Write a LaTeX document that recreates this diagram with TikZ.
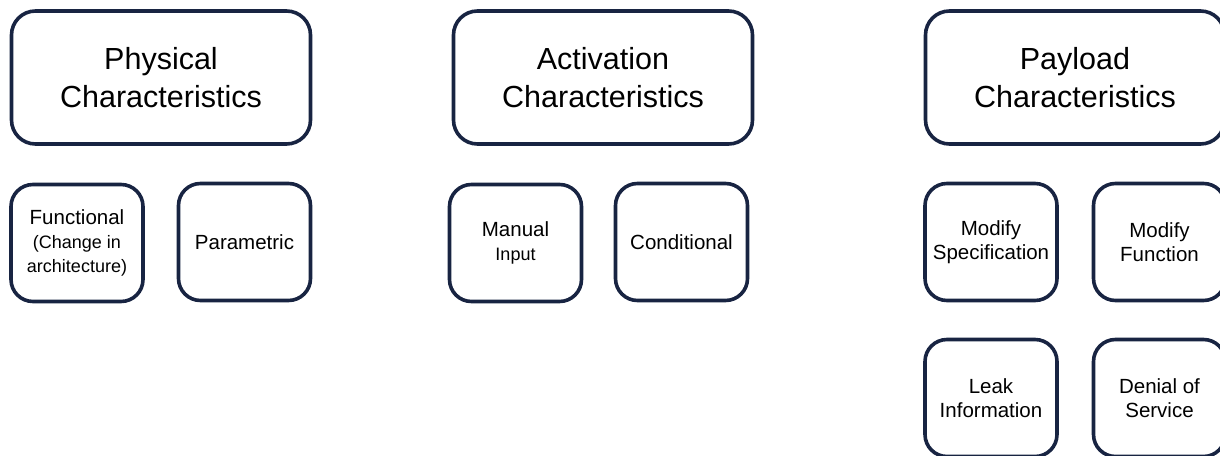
\documentclass[tikz,border=0pt]{standalone}
\usepackage{fontspec}
\setmainfont{Liberation Sans}
\usepackage{xcolor}
\usepackage{tikz}
\usetikzlibrary{positioning}
\definecolor{boxnavy}{RGB}{24,36,66}
\newcommand{\smallline}[1]{{\fontsize{18}{23}\selectfont #1}}

\begin{document}
\begin{tikzpicture}[x=1pt,y=-1pt,
      bigbox/.style={draw=boxnavy,line width=3.6pt,rounded corners=24pt,minimum width=299pt,minimum height=133pt,inner sep=0pt,align=center,font=\fontsize{30.5}{38}\selectfont},
      smallbox/.style={draw=boxnavy,line width=3.6pt,rounded corners=22pt,minimum width=132pt,minimum height=117pt,inner sep=0pt,align=center,font=\fontsize{20.5}{24}\selectfont}]
    \useasboundingbox (0,0) rectangle (1220,455);
    \clip (0,0) rectangle (1220,455);
    % top row
    \node[bigbox] (physical) at (161,77.5) {Physical\\Characteristics};
    \node[bigbox] (activation) at (603,77.5) {Activation\\Characteristics};
    \node[bigbox] (payload) at (1075,77.5) {Payload\\Characteristics};
    % physical
    \node[smallbox] (functional) at (77,243) {Functional\\\smallline{(Change in}\\\smallline{architecture)}};
    \node[smallbox] (parametric) at (244.5,242) {Parametric};
    % activation
    \node[smallbox] (manual) at (515.5,243) {Manual\\\smallline{Input}};
    \node[smallbox] (conditional) at (681.5,242) {Conditional};
    % payload
    \node[smallbox] (modspec) at (991,242) {Modify\\Specification};
    \node[smallbox] (modfunc) at (1159.5,242) {Modify\\Function};
    \node[smallbox] (leak) at (991,398) {Leak\\Information};
    \node[smallbox] (denial) at (1159.5,398) {Denial of\\Service};
  \end{tikzpicture}
\end{document}
